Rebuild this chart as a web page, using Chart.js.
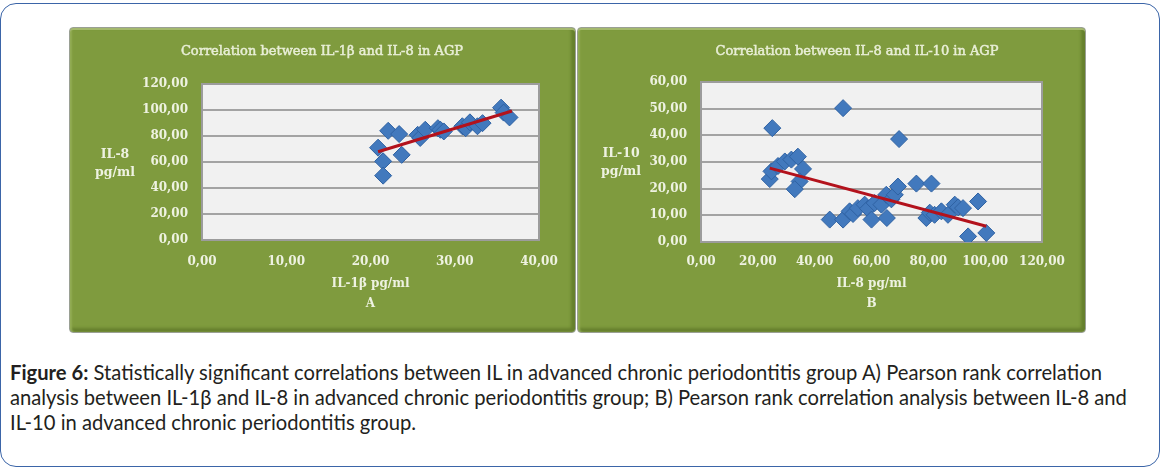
<!DOCTYPE html>
<html>
<head>
<meta charset="utf-8">
<script src="https://cdn.jsdelivr.net/npm/chart.js@4"></script>
<style>
  body { margin: 0; background: #fff; width: 1163px; height: 469px; position: relative; overflow: hidden; }
  .frame {
    position: absolute; left: 0; top: 3px; width: 1158px; height: 462px;
    border: 1.5px solid #3b65a8; border-radius: 16px;
  }
  .panel {
    position: absolute; top: 28px; height: 304px;
    background: #7f9b3e; border-radius: 3px;
    outline: 1px solid #9aa094;
    box-shadow: inset 0 2px 0 #a4b96d, inset 2px 0 2px #93ad55, inset 0 -4px 3px #66802e, inset -4px 0 3px #66802e;
  }
  .panel canvas { position: absolute; left: 0; top: 0; }
  #panelA { left: 70px; width: 505px; }
  #panelB { left: 578px; width: 507px; }
  .caption {
    position: absolute; left: 10px; top: 360px; white-space: nowrap;
    font-family: Lato, "Open Sans", sans-serif; font-size: 20.2px; line-height: 25px; color: #231f20;
  }
</style>
</head>
<body>
<div class="frame"></div>
<div class="panel" id="panelA"><canvas id="chartA" width="505" height="304"></canvas></div>
<div class="panel" id="panelB"><canvas id="chartB" width="507" height="304"></canvas></div>
<div class="caption"><b>Figure 6:</b> Statistically significant correlations between IL in advanced chronic periodontitis group A) Pearson rank correlation<br>analysis between IL-1β and IL-8 in advanced chronic periodontitis group; B) Pearson rank correlation analysis between IL-8 and<br>IL-10 in advanced chronic periodontitis group.</div>
<script>
// panel A: IL-1β (x) vs IL-8 (y)
const aIl1b = [20.9, 21.5, 21.5, 22.1, 23.4, 23.7, 25.6, 25.9, 26.5, 28.0, 28.3, 28.7, 30.9, 31.3, 31.8, 32.7, 33.3, 35.5, 35.8, 36.5];
const aIl8 = [71.0, 60.5, 49.5, 84.0, 81.5, 65.5, 80.9, 78.5, 84.8, 86.0, 84.8, 83.5, 87.5, 86.0, 90.5, 87.5, 89.9, 101.8, 98.0, 94.3];
const aTrendX = [20.9, 36.8];
const aTrendY = [67.9, 99.2];

// panel B: IL-8 (x) vs IL-10 (y)
const bIl8 = [25.1, 50.0, 69.7, 24.2, 24.8, 27.1, 29.5, 31.8, 34.1, 35.9, 34.7, 33.0,
  45.3, 50.0, 52.3, 53.5, 55.2, 57.6, 58.8, 60.0, 61.1, 63.5, 65.2, 65.4, 67.0, 68.2, 69.3,
  75.8, 81.1, 79.3, 80.5, 82.2, 84.6, 86.9, 89.3, 90.5, 92.2, 97.5, 94.0, 100.4];
const bIl10 = [42.7, 50.2, 38.6, 23.6, 26.5, 28.5, 30.2, 30.9, 32.0, 27.4, 22.7, 19.8,
  8.4, 8.4, 11.5, 10.5, 12.7, 14.0, 12.5, 8.4, 14.6, 14.0, 17.7, 9.0, 16.0, 17.7, 20.8,
  21.9, 21.9, 9.0, 11.0, 10.2, 11.5, 10.2, 14.0, 13.0, 12.7, 15.2, 2.1, 3.4];
const bTrendX = [24.2, 100.4];
const bTrendY = [27.7, 5.9];

const tickColor = '#eef2e1';
const serif = 'DejaVu Serif';

const fmt = (v) => v.toFixed(2).replace('.', ',');
const toPoints = (xs, ys) => xs.map((x, i) => ({x, y: ys[i]}));

// light plot background + grey frame around the plot area
const plotFrame = {
  id: 'plotFrame',
  beforeDraw(chart) {
    const {ctx, chartArea: a} = chart;
    ctx.save();
    ctx.fillStyle = '#f1f1f1';
    ctx.fillRect(a.left, a.top, a.right - a.left, a.bottom - a.top);
    ctx.restore();
  },
  beforeDatasetsDraw(chart) {
    const {ctx, chartArea: a} = chart;
    ctx.save();
    ctx.strokeStyle = '#9c9c9c';
    ctx.lineWidth = 2;
    ctx.strokeRect(a.left, a.top, a.right - a.left, a.bottom - a.top);
    ctx.restore();
  },
};

// panel title + horizontal two-line y axis label, placed like the Excel original
const panelText = {
  id: 'panelText',
  afterDraw(chart, args, opts) {
    const ctx = chart.ctx;
    ctx.save();
    ctx.textAlign = 'center';
    ctx.textBaseline = 'middle';
    ctx.fillStyle = '#e8eed6';
    ctx.strokeStyle = '#e8eed6';
    ctx.lineWidth = 0.5;
    ctx.font = '13px "' + serif + '"';
    ctx.fillText(opts.title, opts.titleX, opts.titleY);
    ctx.strokeText(opts.title, opts.titleX, opts.titleY);
    ctx.fillStyle = tickColor;
    ctx.font = 'bold 12.5px "' + serif + '"';
    opts.yLines.forEach((t, i) => ctx.fillText(t, opts.yLabelX, opts.yLabelY + i * 18));
    ctx.restore();
  },
};

const makeChart = (id, cfg) => new Chart(document.getElementById(id), {
  type: 'scatter',
  data: {
    datasets: [{
      type: 'line',
      data: toPoints(cfg.trendX, cfg.trendY),
      borderColor: '#b3121c',
      borderWidth: 3,
      pointRadius: 0,
      order: 0,
    }, {
      data: toPoints(cfg.xs, cfg.ys),
      pointStyle: 'rectRot',
      pointRadius: 8.5,
      backgroundColor: '#4279bd',
      borderColor: '#2f62a3',
      borderWidth: 1,
      order: 1,
    }],
  },
  options: {
    responsive: false,
    animation: false,
    layout: {padding: {top: cfg.padTop, right: cfg.padRight}},
    plugins: {
      legend: {display: false},
      tooltip: {enabled: false},
      panelText: {
        title: cfg.title, titleX: cfg.titleX, titleY: 24,
        yLines: cfg.yLines, yLabelX: cfg.yLabelX, yLabelY: cfg.yLabelY,
      },
    },
    scales: {
      x: {
        min: 0, max: cfg.xMax,
        ticks: {stepSize: cfg.xStep, callback: fmt, color: tickColor, padding: cfg.xTickPad,
          font: {family: serif, size: 12, weight: 'bold'}, maxRotation: 0},
        grid: {display: false},
        border: {display: false},
        title: {display: true, text: cfg.xTitle, color: tickColor,
          font: {family: serif, size: 12, weight: 'bold', lineHeight: 1.6}, padding: {top: 0, bottom: 19}},
        afterFit: (s) => { s.height = cfg.xHeight; },
      },
      y: {
        min: 0, max: cfg.yMax,
        ticks: {stepSize: cfg.yStep, callback: fmt, color: tickColor, padding: 14,
          font: {family: serif, size: 12, weight: 'bold'}},
        grid: {color: '#a3a3a3', lineWidth: 2, drawTicks: false},
        border: {display: false},
        afterFit: (s) => { s.width = cfg.yWidth; },
      },
    },
  },
  plugins: [plotFrame, panelText],
});

makeChart('chartA', {
  xs: aIl1b, ys: aIl8, trendX: aTrendX, trendY: aTrendY,
  title: 'Correlation between IL-1β and IL-8 in AGP', titleX: 252,
  xTitle: ['IL-1β pg/ml', 'A'], yLines: ['IL-8', 'pg/ml'],
  xMax: 40, xStep: 10, yMax: 120, yStep: 20,
  padTop: 56, padRight: 36, xHeight: 92, yWidth: 132,
  xTickPad: 7, yLabelX: 45, yLabelY: 127,
});

makeChart('chartB', {
  xs: bIl8, ys: bIl10, trendX: bTrendX, trendY: bTrendY,
  title: 'Correlation between IL-8 and IL-10 in AGP', titleX: 279,
  xTitle: ['IL-8 pg/ml', 'B'], yLines: ['IL-10', 'pg/ml'],
  xMax: 120, xStep: 20, yMax: 60, yStep: 10,
  padTop: 54, padRight: 43, xHeight: 90, yWidth: 123,
  xTickPad: 5, yLabelX: 43, yLabelY: 126,
});
</script>
</body>
</html>
